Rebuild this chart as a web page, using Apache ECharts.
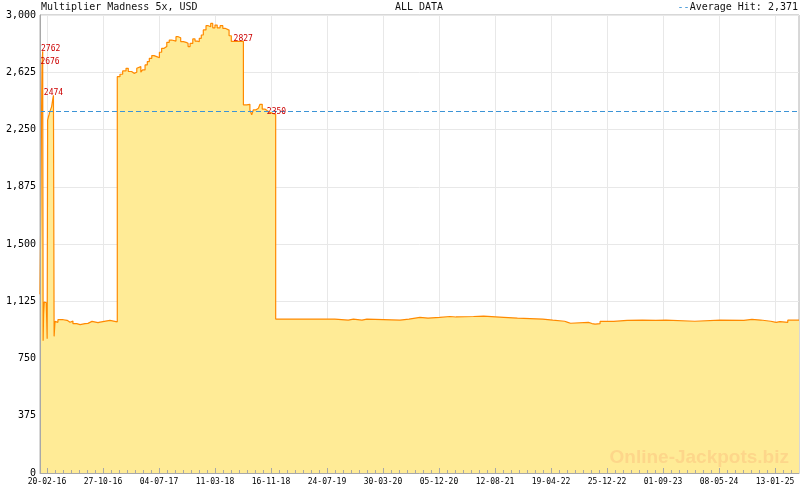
<!DOCTYPE html>
<html><head><meta charset="utf-8">
<script src="https://cdn.jsdelivr.net/npm/echarts@6/dist/echarts.min.js"></script>
<style>html,body{margin:0;padding:0;background:#fff}#c{width:800px;height:490px}</style>
</head><body><div id="c"></div>
<script>
// ---- data ----
const titleText = 'Multiplier Madness 5x, USD';
const rangeText = 'ALL DATA';
const averageHit = 2371;
const dates = [
'2016-01-20','2016-01-24','2016-01-27','2016-01-29','2016-02-01','2016-02-03','2016-02-05','2016-02-08','2016-02-13','2016-02-17',
'2016-02-21','2016-02-23','2016-02-26','2016-02-29','2016-03-04','2016-03-08','2016-03-12','2016-03-16','2016-03-20','2016-03-23',
'2016-03-27','2016-03-31','2016-04-09','2016-05-03','2016-05-11','2016-05-20','2016-06-02','2016-06-15','2016-07-02','2016-07-17',
'2016-08-08','2016-08-21','2016-09-08','2016-10-05','2016-10-14','2016-11-27',
'2016-12-30','2017-01-11','2017-01-23','2017-02-07','2017-02-17','2017-03-04','2017-03-15','2017-03-27','2017-04-03','2017-04-14',
'2017-04-22','2017-05-03','2017-05-13','2017-05-22','2017-06-02','2017-06-12','2017-06-24','2017-07-06','2017-07-16','2017-07-27',
'2017-08-08','2017-08-19','2017-08-30','2017-09-06','2017-09-18','2017-09-28','2017-10-09','2017-10-21','2017-11-02','2017-11-11',
'2017-11-20','2017-12-02','2017-12-12','2017-12-22','2017-12-31','2018-01-09','2018-01-18','2018-01-30','2018-02-09','2018-02-20',
'2018-03-01','2018-03-11','2018-03-21','2018-04-03','2018-04-15','2018-04-25','2018-05-02','2018-05-13','2018-05-23',
'2018-07-16','2018-07-31','2018-08-07','2018-08-14','2018-08-22','2018-08-29','2018-09-09','2018-09-21','2018-09-28','2018-10-08',
'2018-10-20','2018-10-31','2018-11-12','2018-11-24',
'2018-12-07','2019-01-31','2019-02-05','2019-08-28','2019-10-27','2019-11-19','2019-12-27','2020-01-18','2020-06-14','2020-07-24',
'2020-09-11','2020-10-17','2020-12-08','2021-01-23','2021-02-19','2021-05-08','2021-06-22','2021-09-20','2021-11-20','2022-03-13',
'2022-04-27','2022-06-19','2022-07-03','2022-07-15','2022-10-03','2022-10-19','2022-11-02','2022-11-24','2023-01-24','2023-03-25',
'2023-06-01','2023-07-31','2023-09-14','2024-01-21','2024-05-13','2024-08-27','2024-10-02','2024-11-10','2024-12-25','2025-01-18',
'2025-02-04','2025-03-11','2025-04-30'
];
const values = [
1170,1765,2366,2676,2762,866,1040,1120,1115,1124,
880,2312,2330,2345,2367,2360,2400,2440,2474,895,
993,987,1004,1017,1000,987,995,978,972,978,
980,993,985,988,1000,990,
2596,2612,2634,2651,2630,2618,2625,2651,2662,2625,
2640,2673,2695,2716,2734,2727,2720,2756,2782,2793,
2821,2836,2843,2829,2858,2851,2826,2821,2814,2793,
2814,2843,2829,2825,2847,2869,2902,2930,2923,2945,
2916,2934,2916,2930,2913,2923,2901,2864,2827,
2411,2406,2415,2378,2346,2378,2389,2393,2415,2384,
2373,2362,2356,2350,
1008,1012,1008,1001,1008,1001,1008,1001,1008,1019,
1015,1019,1025,1022,1025,1027,1020,1014,1008,1001,
994,987,981,987,979,975,979,993,1000,1001,
1000,1001,994,1001,1000,1006,1002,994,987,992,
987,1001,1001
];
const annotDates = ['2016-01-29','2016-02-01','2016-03-20','2018-07-15','2018-12-06'];
const annotValues = [2676, 2762, 2474, 2827, 2350];
const tickLabelDates = ['2016-02-20','2016-10-27','2017-07-04','2018-03-11','2018-11-16','2019-07-24','2020-03-30',
  '2020-12-05','2021-08-12','2022-04-19','2022-12-25','2023-09-01','2024-05-08','2025-01-13'];
const axisStart = '2016-01-20';
const axisEnd = '2025-04-30';

// ---- helpers ----
function ts(s){ const p = s.split('-').map(Number); return Date.UTC(p[0], p[1]-1, p[2]); }
function pad(n){ return (n < 10 ? '0' : '') + n; }
function fmtDate(v){ const d = new Date(v); return pad(d.getUTCDate()) + '-' + pad(d.getUTCMonth()+1) + '-' + pad(d.getUTCFullYear() % 100); }
function fmtNum(v){ return String(Math.round(v)).replace(/\B(?=(\d{3})+(?!\d))/g, ','); }

const xMin = ts(axisStart), xMax = ts(axisEnd);
const majorTicks = tickLabelDates.map(ts);
const step = (majorTicks[1] - majorTicks[0]) / 7;
const minorTicks = [];
for (let t = majorTicks[0]; t <= xMax; t += step) { if (t >= xMin) minorTicks.push(t); }

const seriesData = dates.map((d, i) => [ts(d), values[i]]);
const annotOffsets = [[8, 3], [8, 3], [0, 3], [0, 3], [1, 3]];

const MONO = '"DejaVu Sans Mono", monospace';
const AX = '#a8a8a8', GRIDC = '#e8e8e8';
const chart = echarts.init(document.getElementById('c'), null, { renderer: 'canvas' });
chart.setOption({
  animation: false,
  backgroundColor: '#ffffff',
  grid: { left: 40, right: 1, top: 15, bottom: 17, show: true, borderColor: '#b0b0b0', borderWidth: 1, backgroundColor: 'transparent' },
  xAxis: [{
    // base axis: grid lines (under the fill) + labels
    type: 'value', min: xMin, max: xMax, position: 'bottom', z: 0,
    axisLine: { show: false },
    axisTick: { show: false, customValues: majorTicks },
    axisLabel: { show: true, customValues: majorTicks, formatter: v => fmtDate(v), fontFamily: MONO, fontSize: 8, color: '#000', margin: 5 },
    splitLine: { show: true, lineStyle: { color: GRIDC, width: 1 } }
  }, {
    // overlay: axis line + major ticks on top of the fill
    type: 'value', min: xMin, max: xMax, position: 'bottom', z: 10,
    axisLine: { show: true, lineStyle: { color: AX, width: 1 } },
    axisTick: { show: true, inside: true, length: 5, customValues: majorTicks, lineStyle: { color: AX } },
    axisLabel: { show: false },
    splitLine: { show: false }
  }, {
    // overlay: minor ticks
    type: 'value', min: xMin, max: xMax, position: 'bottom', z: 10,
    axisLine: { show: false },
    axisTick: { show: true, inside: true, length: 3, customValues: minorTicks, lineStyle: { color: AX } },
    axisLabel: { show: false },
    splitLine: { show: false }
  }],
  yAxis: [{
    type: 'value', min: 0, max: 3000, interval: 375, z: 0,
    axisLine: { show: false },
    axisTick: { show: false },
    axisLabel: { formatter: v => fmtNum(v), fontFamily: MONO, fontSize: 10, color: '#000', margin: 4 },
    splitLine: { show: true, lineStyle: { color: GRIDC, width: 1 } }
  }, {
    type: 'value', min: 0, max: 3000, interval: 375, z: 10, position: 'left',
    axisLine: { show: true, lineStyle: { color: AX } },
    axisTick: { show: false },
    axisLabel: { show: false },
    splitLine: { show: false }
  }],
  series: [{
    type: 'line', xAxisIndex: 0, yAxisIndex: 0,
    data: seriesData, step: 'end', symbol: 'none', showSymbol: false,
    lineStyle: { color: '#ff8a00', width: 1.2 },
    areaStyle: { color: '#ffeb96', opacity: 1 },
    z: 2,
    markLine: {
      silent: true, symbol: ['none', 'none'], animation: false,
      label: { show: false },
      lineStyle: { color: '#3c94d6', type: [5, 3], width: 1 },
      data: [{ yAxis: averageHit }]
    },
    markPoint: {
      silent: true, symbol: 'circle', symbolSize: 1, animation: false,
      itemStyle: { color: 'rgba(0,0,0,0)' },
      label: { show: true, position: 'top', distance: 1, color: '#cc0000', fontFamily: MONO, fontSize: 8, formatter: p => String(p.value) },
      data: annotDates.map((d, i) => ({ coord: [ts(d), annotValues[i]], value: annotValues[i], label: { offset: annotOffsets[i] } }))
    }
  }],
  graphic: { elements: [
    { type: 'text', z: 100, style: { x: 41, y: 7, text: titleText, font: '10px ' + MONO, fill: '#111', verticalAlign: 'middle', align: 'left' } },
    { type: 'text', z: 100, style: { x: 419, y: 7, text: rangeText, font: '10px ' + MONO, fill: '#111', verticalAlign: 'middle', align: 'center' } },
    { type: 'text', z: 100, style: { x: 798, y: 7, text: '{d|--}Average Hit: ' + fmtNum(averageHit), font: '10px ' + MONO, fill: '#111', verticalAlign: 'middle', align: 'right',
        rich: { d: { fill: '#3c94d6', font: '10px ' + MONO } } } },
    { type: 'text', z: 100, style: { x: 789, y: 458, text: 'Online-Jackpots.biz', font: 'bold 19px "Liberation Sans", Arial, sans-serif', fill: '#fdd68a', verticalAlign: 'middle', align: 'right' } }
  ] }
});
</script>
</body></html>
